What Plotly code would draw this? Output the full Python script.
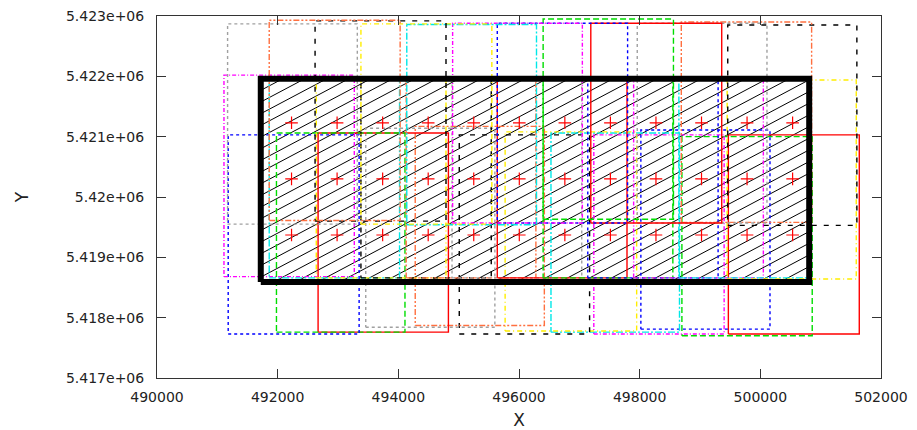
import plotly.graph_objects as go

# ---------------- data ----------------
# footprint tiles, in acquisition order 0..35
tile_left = [499470, 498700, 498020, 497240, 496530, 495770, 495010, 494280, 493460, 492670, 491980, 491180,
             491110, 491860, 492640, 493380, 494130, 494890, 495640, 496400, 497140, 497900, 498650, 499450,
             499460, 498690, 497960, 497190, 496400, 495640, 494900, 494140, 493380, 492620, 491860, 491170]
tile_right = [501640, 500860, 500160, 499400, 498660, 497950, 497170, 496420, 495600, 494830, 494110, 493350,
              493270, 494020, 494790, 495540, 496280, 497040, 497790, 498550, 499300, 500050, 500810, 501590,
              501600, 500850, 500110, 499360, 498560, 497800, 497050, 496290, 495550, 494790, 494030, 493320]
tile_bottom = [5417730, 5417700, 5417810, 5417730, 5417760, 5417780, 5417730, 5417870, 5417840, 5417760, 5417760, 5417730,
               5418680, 5418660, 5418660, 5418660, 5418660, 5418660, 5418660, 5418660, 5418660, 5418660, 5418660, 5418640,
               5419530, 5419580, 5419570, 5419570, 5419630, 5419570, 5419570, 5419540, 5419550, 5419600, 5419610, 5419550]
tile_top = [5421030, 5421000, 5421110, 5421030, 5421060, 5421080, 5421030, 5421170, 5421140, 5421060, 5421060, 5421030,
            5422020, 5421990, 5421990, 5421990, 5421990, 5421990, 5421990, 5421990, 5421990, 5421990, 5421990, 5421940,
            5422850, 5422900, 5422880, 5422880, 5422950, 5422880, 5422880, 5422860, 5422870, 5422920, 5422930, 5422870]

# planned tile centres (red crosses)
plus_x = [492230, 492985, 493740, 494495, 495250, 496005, 496760, 497515, 498270, 499025, 499780, 500535]
plus_y = [5421230, 5420300, 5419370]

# target area (thick hatched box)
area_x = [491720, 500810]
area_y = [5418590, 5421960]

x_ticks = [490000, 492000, 494000, 496000, 498000, 500000, 502000]
x_tick_text = ["490000", "492000", "494000", "496000", "498000", "500000", "502000"]
y_ticks = [5417000, 5418000, 5419000, 5420000, 5421000, 5422000, 5423000]
y_tick_text = ["5.417e+06", "5.418e+06", "5.419e+06", "5.42e+06", "5.421e+06", "5.422e+06", "5.423e+06"]

# ---------------- styles (gnuplot-like line types) ----------------
lt_colors = ["#ff0000", "#00dd00", "#0000ff", "#ff00ff", "#00e8e8", "#ffee00", "#000000", "#ff7040", "#a0a0a0"]
lt_dash = ["solid", "6px,3px", "3px,3px", "4px,2px,1px,2px", "7px,2px,2px,2px",
           "5px,3px,1px,3px", "5px,7px", "6px,2px,2px,2px,2px,2px", "3px,3px"]

fig = go.Figure()

# hatch lines inside the target area
x0, x1 = area_x
y0, y1 = area_y
slope = 0.53
step = 365.0
c = 491930.0
while c - step > x0 - (y1 - y0) / slope:
    c -= step
hx, hy = [], []
while c < x1:
    xs = max(x0, c)
    xe = min(x1, c + (y1 - y0) / slope)
    if xe > xs:
        hx += [xs, xe, None]
        hy += [y0 + slope * (xs - c), y0 + slope * (xe - c), None]
    c += step
fig.add_trace(go.Scatter(x=hx, y=hy, mode="lines", line=dict(color="black", width=1),
                         hoverinfo="skip", showlegend=False))

# footprint tiles
for i in range(len(tile_left)):
    l, r, b, t = tile_left[i], tile_right[i], tile_bottom[i], tile_top[i]
    k = i % 9
    fig.add_trace(go.Scatter(x=[l, r, r, l, l], y=[b, b, t, t, b], mode="lines",
                             line=dict(color=lt_colors[k], width=1.4, dash=lt_dash[k]),
                             showlegend=False))

# thick box
fig.add_trace(go.Scatter(x=[x0, x1, x1, x0, x0], y=[y0, y0, y1, y1, y0], mode="lines",
                         line=dict(color="black", width=6), showlegend=False))

# red crosses
px, py = [], []
for yy in plus_y:
    for xx in plus_x:
        px.append(xx)
        py.append(yy)
fig.add_trace(go.Scatter(x=px, y=py, mode="markers",
                         marker=dict(symbol="cross-thin", size=9, color="red",
                                     line=dict(color="red", width=1.2)),
                         showlegend=False))

font = dict(family="DejaVu Sans", size=14, color="#222")
fig.update_layout(
    width=917, height=430,
    margin=dict(l=157, r=36, t=16, b=52, autoexpand=False),
    paper_bgcolor="white", plot_bgcolor="white",
    showlegend=False,
    font=font,
)
fig.update_xaxes(range=[490000, 502000], tickvals=x_ticks, ticktext=x_tick_text,
                 ticks="inside", ticklen=9, tickcolor="#333", showline=True, linecolor="#333",
                 linewidth=1, mirror="ticks", showgrid=False, zeroline=False, automargin=False,
                 title=dict(text="X", standoff=17), ticklabelstandoff=6)
fig.update_yaxes(range=[5417000, 5423000], tickvals=y_ticks, ticktext=y_tick_text,
                 ticks="inside", ticklen=9, tickcolor="#333", showline=True, linecolor="#333",
                 linewidth=1, mirror="ticks", showgrid=False, zeroline=False, automargin=False,
                 title=dict(text="Y", standoff=33), ticklabelstandoff=9)

fig.write_html("out.html")
